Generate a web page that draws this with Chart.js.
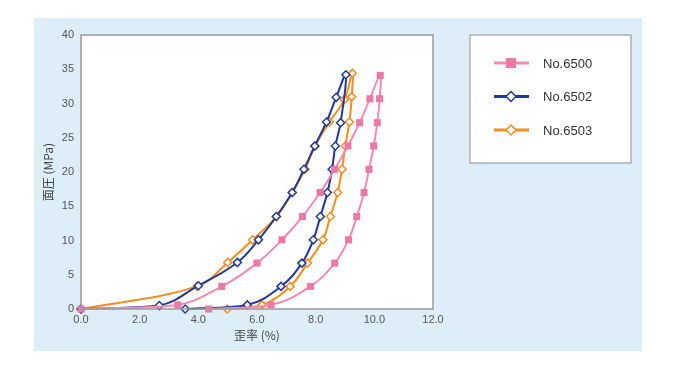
<!DOCTYPE html>
<html>
<head>
<meta charset="utf-8">
<script src="https://cdn.jsdelivr.net/npm/chart.js@4.4.0/dist/chart.umd.min.js"></script>
<style>
  html, body { margin: 0; padding: 0; background: #fff; }
  #wrap { width: 677px; height: 369px; position: relative; }
</style>
</head>
<body>
<div id="wrap"><canvas id="curveChart"></canvas></div>
<script>
// 歪率 (%) / 面圧 (MPa) — loading branch then unloading branch
const seriesNames = ['No.6500', 'No.6502', 'No.6503'];

const strain6500 = [0, 3.3, 4.8, 6.0, 6.85, 7.55, 8.15, 8.65, 9.1, 9.5, 9.85, 10.2, 10.18, 10.1, 9.98, 9.82, 9.65, 9.4, 9.12, 8.65, 7.82, 6.48, 4.35];
const stress6500 = [0, 0.6, 3.3, 6.7, 10.1, 13.5, 17.0, 20.4, 23.8, 27.2, 30.7, 34.1, 30.7, 27.2, 23.8, 20.4, 17.0, 13.5, 10.1, 6.7, 3.3, 0.6, 0];

const strain6502 = [0, 2.67, 4.0, 5.33, 6.05, 6.66, 7.2, 7.6, 7.97, 8.37, 8.7, 9.03, 8.85, 8.67, 8.56, 8.4, 8.16, 7.92, 7.53, 6.82, 5.67, 3.55];
const stress6502 = [0, 0.5, 3.4, 6.8, 10.1, 13.5, 17.0, 20.4, 23.8, 27.3, 30.9, 34.2, 27.2, 23.8, 20.4, 17.0, 13.5, 10.1, 6.7, 3.3, 0.6, 0];

const strain6503 = [0, 3.96, 5.0, 5.85, 6.66, 7.2, 7.64, 7.98, 8.47, 8.98, 9.25, 9.23, 9.15, 9.01, 8.9, 8.75, 8.5, 8.25, 7.72, 7.13, 6.17, 4.99];
const stress6503 = [0, 3.3, 6.8, 10.1, 13.5, 17.0, 20.4, 23.8, 27.3, 30.6, 34.4, 31.0, 27.3, 23.8, 20.4, 17.0, 13.5, 10.1, 6.7, 3.3, 0.6, 0];

const xTicks = [0, 2, 4, 6, 8, 10, 12];
const yTicks = [0, 5, 10, 15, 20, 25, 30, 35, 40];

function toPoints(xs, ys) {
    return xs.map(function(x, i) { return { x: x, y: ys[i] }; });
}

const textFont = "'Liberation Sans', 'Noto Sans CJK JP', sans-serif";

// light blue panel, white plot box and its frame
const panelPlugin = {
    id: 'panel',
    beforeDraw: function(chart) {
        const ctx = chart.ctx;
        const a = chart.chartArea;
        ctx.save();
        ctx.fillStyle = '#ffffff';
        ctx.fillRect(0, 0, chart.width, chart.height);
        ctx.fillStyle = '#ddeef9';
        ctx.fillRect(34, 18, 608, 333);
        ctx.fillStyle = '#ffffff';
        ctx.fillRect(a.left, a.top, a.right - a.left, a.bottom - a.top);
        ctx.restore();
    },
    afterDatasetsDraw: function(chart) {
        const ctx = chart.ctx;
        const a = chart.chartArea;
        ctx.save();
        ctx.strokeStyle = '#9a9a9a';
        ctx.lineWidth = 1.5;
        ctx.strokeRect(a.left, a.top, a.right - a.left, a.bottom - a.top);
        ctx.restore();
    }
};

// boxed legend on the right
const boxLegendPlugin = {
    id: 'boxLegend',
    afterDraw: function(chart) {
        const ctx = chart.ctx;
        ctx.save();
        ctx.fillStyle = '#ffffff';
        ctx.fillRect(470, 35, 161, 128);
        ctx.strokeStyle = '#a0a0a0';
        ctx.lineWidth = 1.2;
        ctx.strokeRect(470, 35, 161, 128);
        chart.data.datasets.forEach(function(ds, i) {
            const y = 63 + i * 33.5;
            ctx.strokeStyle = ds.borderColor;
            ctx.lineWidth = 3;
            ctx.beginPath();
            ctx.moveTo(494, y);
            ctx.lineTo(529, y);
            ctx.stroke();
            ctx.fillStyle = ds.pointBackgroundColor;
            ctx.strokeStyle = ds.pointBorderColor;
            ctx.lineWidth = 1.5;
            if (ds.pointStyle === 'rect') {
                ctx.fillRect(506, y - 5, 10, 10);
            } else {
                ctx.beginPath();
                ctx.moveTo(511, y - 5);
                ctx.lineTo(516, y);
                ctx.lineTo(511, y + 5);
                ctx.lineTo(506, y);
                ctx.closePath();
                ctx.fill();
                ctx.stroke();
            }
            ctx.fillStyle = '#333333';
            ctx.font = "13px " + textFont;
            ctx.textBaseline = 'middle';
            ctx.fillText(seriesNames[i], 543, y + 1);
        });
        ctx.restore();
    }
};

new Chart(document.getElementById('curveChart').getContext('2d'), {
    type: 'line',
    data: {
        datasets: [{
            label: seriesNames[0],
            data: toPoints(strain6500, stress6500),
            borderColor: '#f28ab4',
            borderWidth: 2,
            pointStyle: 'rect',
            pointRadius: 5,
            pointBackgroundColor: '#ee79a9',
            pointBorderColor: '#ee79a9',
            pointBorderWidth: 0,
            tension: 0.4,
            clip: false
        }, {
            label: seriesNames[1],
            data: toPoints(strain6502, stress6502),
            borderColor: '#22389a',
            borderWidth: 2,
            pointStyle: 'rectRot',
            pointRadius: 4,
            pointBackgroundColor: '#ffffff',
            pointBorderColor: '#22389a',
            pointBorderWidth: 1.5,
            tension: 0.4,
            clip: false
        }, {
            label: seriesNames[2],
            data: toPoints(strain6503, stress6503),
            borderColor: '#f68d1e',
            borderWidth: 2,
            pointStyle: 'rectRot',
            pointRadius: 4,
            pointBackgroundColor: '#ffffff',
            pointBorderColor: '#f68d1e',
            pointBorderWidth: 1.5,
            tension: 0.4,
            clip: false
        }]
    },
    options: {
        responsive: true,
        maintainAspectRatio: false,
        animation: false,
        layout: {
            padding: { left: 34, right: 244, top: 35, bottom: 20 }
        },
        plugins: {
            legend: { display: false },
            tooltip: { enabled: false }
        },
        scales: {
            x: {
                type: 'linear',
                min: 0,
                max: 12,
                afterFit: function(scale) { scale.height = 40; },
                afterBuildTicks: function(scale) {
                    scale.ticks = xTicks.map(function(v) { return { value: v }; });
                },
                grid: { display: false, drawTicks: false },
                border: { display: false },
                ticks: {
                    padding: 4,
                    color: '#555555',
                    font: { family: textFont, size: 11 },
                    callback: function(v) { return v.toFixed(1); }
                },
                title: {
                    display: true,
                    text: '歪率 (%)',
                    color: '#444444',
                    font: { family: "'Noto Sans CJK JP', sans-serif", size: 12 },
                    padding: { top: 0, bottom: 6 }
                }
            },
            y: {
                min: 0,
                max: 40,
                afterFit: function(scale) { scale.width = 47; },
                afterBuildTicks: function(scale) {
                    scale.ticks = yTicks.map(function(v) { return { value: v }; });
                },
                grid: { display: false, drawTicks: false },
                border: { display: false },
                ticks: {
                    padding: 7,
                    color: '#555555',
                    font: { family: textFont, size: 11 }
                },
                title: {
                    display: true,
                    text: '面圧 (MPa)',
                    color: '#444444',
                    font: { family: "'Noto Sans CJK JP', sans-serif", size: 12 },
                    padding: { top: 7, bottom: 0 }
                }
            }
        }
    },
    plugins: [panelPlugin, boxLegendPlugin]
});
</script>
</body>
</html>
